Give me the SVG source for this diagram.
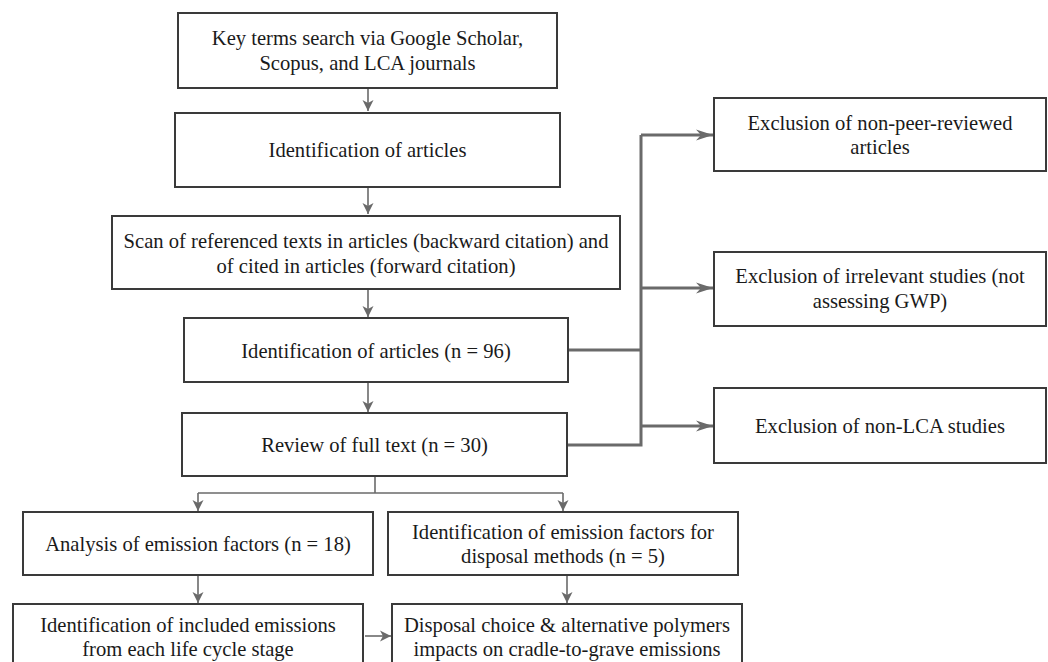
<svg xmlns="http://www.w3.org/2000/svg" width="1048" height="662" viewBox="0 0 1048 662">
<style>
.box{fill:#fff;stroke:#3a3a3a;stroke-width:2}
.t{font-family:'Liberation Serif','Times New Roman',serif;font-size:20.6px;fill:#1a1a1a;text-anchor:middle}
.thin{fill:none;stroke:#6a6a6a;stroke-width:1.6}
.thick{fill:none;stroke:#6a6a6a;stroke-width:3}
</style>
<defs>
<marker id="ah" markerUnits="userSpaceOnUse" markerWidth="12" markerHeight="12" viewBox="0 0 12 12" refX="11" refY="6" orient="auto">
<path d="M0,0.5 L11,6 L0,11.5 L3,6 z" fill="#6a6a6a"/>
</marker>
<marker id="ahb" markerUnits="userSpaceOnUse" markerWidth="18" markerHeight="14" viewBox="0 0 18 14" refX="17" refY="7" orient="auto">
<path d="M0,1.5 L17,7 L0,12.5 L5,7 z" fill="#6a6a6a"/>
</marker>
</defs>
<rect width="1048" height="662" fill="#fff"/>
<g id="connectors">
<line class="thin" x1="368" y1="89" x2="368" y2="111" marker-end="url(#ah)"/>
<line class="thin" x1="368" y1="188" x2="368" y2="214" marker-end="url(#ah)"/>
<line class="thin" x1="368" y1="290" x2="368" y2="317" marker-end="url(#ah)"/>
<line class="thin" x1="368" y1="383" x2="368" y2="412" marker-end="url(#ah)"/>
<polyline class="thin" points="375,477 375,493"/>
<line class="thin" x1="198" y1="493" x2="563" y2="493"/>
<line class="thin" x1="198" y1="493" x2="198" y2="511" marker-end="url(#ah)"/>
<line class="thin" x1="563" y1="493" x2="563" y2="511" marker-end="url(#ah)"/>
<line class="thin" x1="198" y1="576" x2="198" y2="603" marker-end="url(#ah)"/>
<line class="thin" x1="567" y1="576" x2="567" y2="603" marker-end="url(#ah)"/>
<line class="thin" x1="365" y1="636" x2="391" y2="636" marker-end="url(#ah)"/>
<polyline class="thick" points="568,350 641,350"/>
<polyline class="thick" points="567,445 641,445 641,135"/>
<line class="thick" x1="641" y1="135" x2="713" y2="135" marker-end="url(#ahb)"/>
<line class="thick" x1="641" y1="288" x2="713" y2="288" marker-end="url(#ahb)"/>
<line class="thick" x1="641" y1="426" x2="713" y2="426" marker-end="url(#ahb)"/>
</g>
<g id="n1"><rect class="box" x="178" y="13" width="379" height="75"/>
<text class="t" x="367.5" y="45">Key terms search via Google Scholar,</text>
<text class="t" x="367.5" y="70">Scopus, and LCA journals</text></g>
<g id="n2"><rect class="box" x="175" y="113" width="385" height="74"/>
<text class="t" x="367.5" y="157">Identification of articles</text></g>
<g id="n3"><rect class="box" x="112" y="216" width="508" height="73"/>
<text class="t" x="366" y="248">Scan of referenced texts in articles (backward citation) and</text>
<text class="t" x="366" y="273">of cited in articles (forward citation)</text></g>
<g id="n4"><rect class="box" x="184" y="318" width="384" height="64"/>
<text class="t" x="376" y="358">Identification of articles (n = 96)</text></g>
<g id="n5"><rect class="box" x="182" y="413" width="385" height="63"/>
<text class="t" x="374.5" y="452">Review of full text (n = 30)</text></g>
<g id="e1"><rect class="box" x="714" y="98" width="332" height="73"/>
<text class="t" x="880" y="130">Exclusion of non-peer-reviewed</text>
<text class="t" x="880" y="154">articles</text></g>
<g id="e2"><rect class="box" x="714" y="252" width="332" height="74"/>
<text class="t" x="880" y="283">Exclusion of irrelevant studies (not</text>
<text class="t" x="880" y="308">assessing GWP)</text></g>
<g id="e3"><rect class="box" x="714" y="388" width="332" height="75"/>
<text class="t" x="880" y="433">Exclusion of non-LCA studies</text></g>
<g id="a1"><rect class="box" x="23" y="512" width="350" height="63"/>
<text class="t" x="198" y="551">Analysis of emission factors (n = 18)</text></g>
<g id="a2"><rect class="box" x="388" y="512" width="350" height="63"/>
<text class="t" x="563" y="539">Identification of emission factors for</text>
<text class="t" x="563" y="563">disposal methods (n = 5)</text></g>
<g id="b1"><rect class="box" x="13" y="604" width="350" height="70"/>
<text class="t" x="188" y="632">Identification of included emissions</text>
<text class="t" x="188" y="656">from each life cycle stage</text></g>
<g id="b2"><rect class="box" x="392" y="604" width="350" height="70"/>
<text class="t" x="567" y="632">Disposal choice &amp; alternative polymers</text>
<text class="t" x="567" y="656">impacts on cradle-to-grave emissions</text></g>
</svg>
